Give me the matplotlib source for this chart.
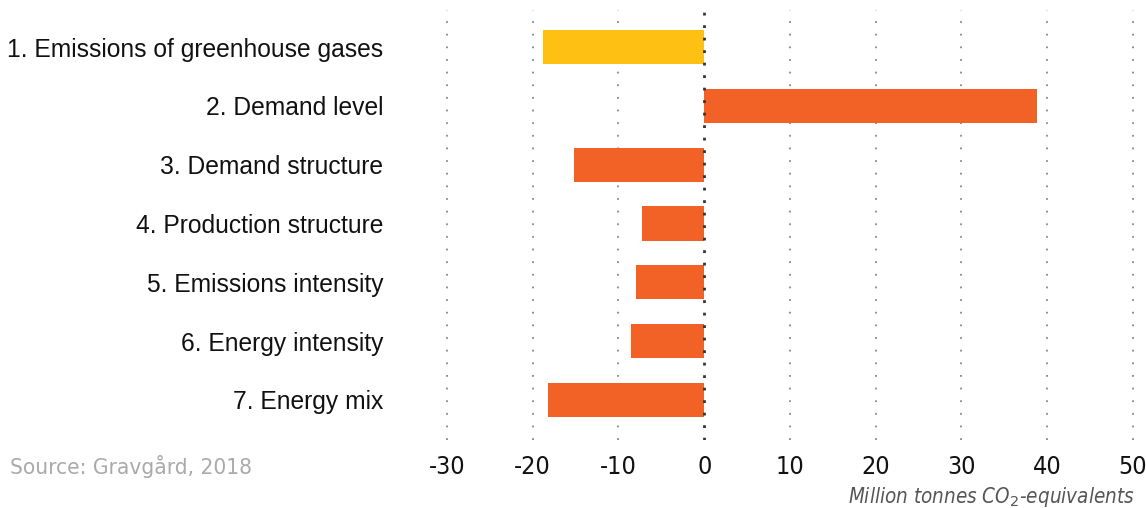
import matplotlib.pyplot as plt

# Datos
categories = ["1. Emissions of greenhouse gases", "2. Demand level",
              "3. Demand structure", "4. Production structure",
              "5. Emissions intensity", "6. Energy intensity", "7. Energy mix"]
values = [-18.8, 38.8, -15.2, -7.3, -8.0, -8.5, -18.2]
colors = ["#FFC014", "#F26227", "#F26227", "#F26227", "#F26227", "#F26227", "#F26227"]
xticks = [-30, -20, -10, 0, 10, 20, 30, 40, 50]

fig = plt.figure(figsize=(11.46, 5.08), dpi=100)
ax = fig.add_axes([0.3526, 0.1339, 0.6435, 0.8465])

ypos = list(range(1, len(categories) + 1))
ax.barh(ypos, values, height=0.58, color=colors, zorder=2)

# Rejilla punteada
for t in xticks:
    if t == 0:
        ax.axvline(t, color="#333333", lw=2, ls=(0, (1, 3.5)), zorder=3)
    else:
        ax.axvline(t, color="#888888", lw=1.3, ls=(0, (1, 6)), zorder=1)

ax.set_xlim(-35, 51)
ax.set_ylim(7.68, 0.37)
ax.set_xticks(xticks)
ax.set_xticklabels([str(t) for t in xticks], fontsize=18, fontstretch="condensed")
ax.set_yticks(ypos)
ax.set_yticklabels(categories, fontsize=17.7, family="Liberation Sans")
ax.tick_params(axis="x", length=0, pad=11, colors="#111111")
ax.tick_params(axis="y", length=0, pad=15, colors="#111111")
for s in ax.spines.values():
    s.set_visible(False)

fig.text(10 / 1146, 1 - 466 / 508, "Source: Gravgård, 2018", fontsize=16.2,
         color="#AAAAAA", va="center", ha="left", fontstretch="condensed")
fig.text(1135 / 1146, 1 - 497 / 508, "Million tonnes CO$_2$-equivalents",
         fontsize=14.8, color="#555555", style="italic", va="center", ha="right",
         fontstretch="condensed")

fig.savefig("out.png", dpi=100)
